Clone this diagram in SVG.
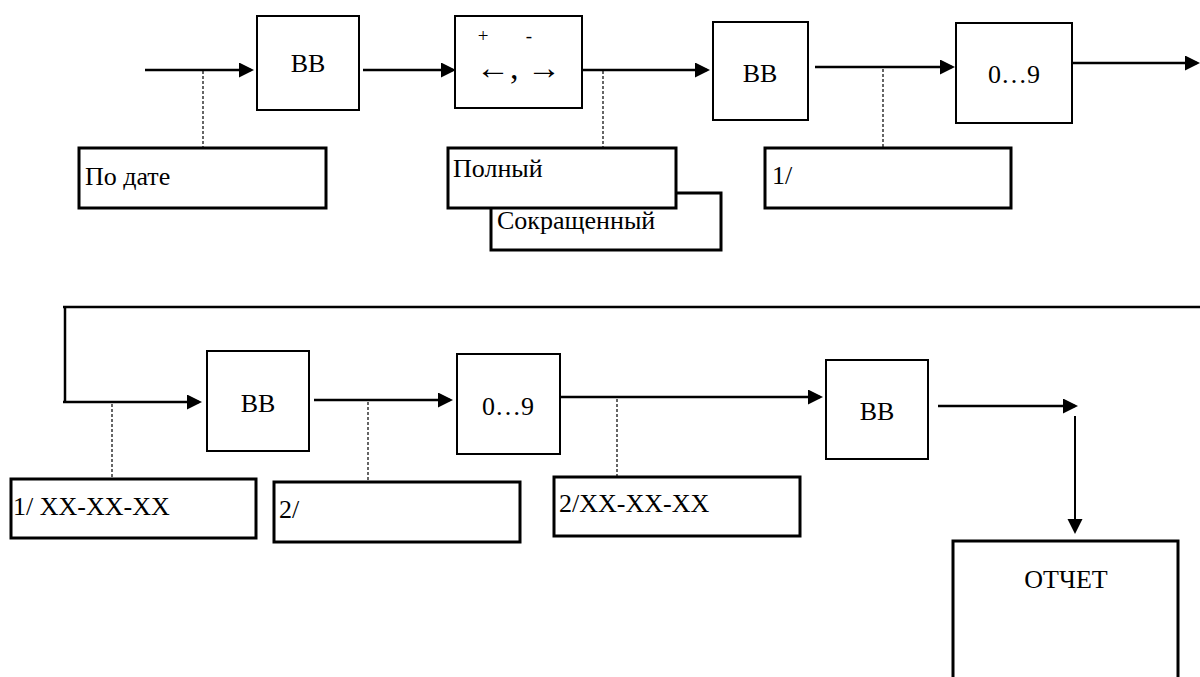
<svg xmlns="http://www.w3.org/2000/svg" width="1200" height="677" viewBox="0 0 1200 677">
<style>
text{font-family:'Liberation Serif','DejaVu Serif',serif;font-size:26px;fill:#000}
.mid{text-anchor:middle}
.box{fill:#fff;stroke:#000;stroke-width:2}
.lab{fill:#fff;stroke:#000;stroke-width:3}
.ln{stroke:#000;stroke-width:2.5;fill:none}
.arr{stroke:#000;stroke-width:2.5;fill:none;marker-end:url(#ah)}
.dash{stroke:#000;stroke-width:1.2;stroke-dasharray:3 2;fill:none}
.sm{font-size:19px}
</style>
<defs>
<marker id="ah" markerUnits="userSpaceOnUse" markerWidth="16" markerHeight="16" refX="12" refY="7.5" orient="auto">
<path d="M0,0 L15,7.5 L0,15 z" fill="#000"/>
</marker>
</defs>
<g id="connectors">
<line class="arr" x1="145" y1="70" x2="251" y2="70"/>
<line class="dash" x1="203" y1="71" x2="203" y2="148"/>
<line class="arr" x1="363" y1="70" x2="453" y2="70"/>
<line class="dash" x1="603" y1="71" x2="603" y2="148"/>
<line class="arr" x1="583" y1="70" x2="707" y2="70"/>
<line class="arr" x1="815" y1="67" x2="952" y2="67"/>
<line class="dash" x1="883" y1="69" x2="883" y2="148"/>
<line class="arr" x1="1072" y1="63" x2="1197" y2="63"/>
<line class="ln" x1="63" y1="307" x2="1200" y2="307"/>
<line class="ln" x1="65" y1="307" x2="65" y2="402"/>
<line class="arr" x1="63" y1="402" x2="199" y2="402"/>
<line class="dash" x1="112" y1="404" x2="112" y2="479"/>
<line class="arr" x1="314" y1="400" x2="450" y2="400"/>
<line class="dash" x1="368" y1="402" x2="368" y2="481"/>
<line class="arr" x1="561" y1="397" x2="820" y2="397"/>
<line class="dash" x1="617" y1="399" x2="617" y2="477"/>
<line class="arr" x1="938" y1="406" x2="1075" y2="406"/>
<line class="arr" style="stroke-width:2" x1="1075" y1="416" x2="1075" y2="531"/>
</g>
<g id="bb1"><rect class="box" x="257" y="16" width="102" height="94"/><text class="mid" x="308" y="72">ВВ</text></g>
<g id="arrows-box"><rect class="box" x="455" y="16" width="127" height="92"/>
<text class="sm mid" x="483" y="42">+</text>
<text class="sm mid" x="529" y="42">-</text>
<text x="476" y="79" style="font-size:34px">←, →</text></g>
<g id="bb3"><rect class="box" x="713" y="22" width="95" height="98"/><text class="mid" x="760" y="82">ВВ</text></g>
<g id="digits1"><rect class="box" x="956" y="23" width="116" height="100"/><text class="mid" x="1014" y="83">0…9</text></g>
<g id="po-date"><rect class="lab" x="79" y="148" width="247" height="60"/><text x="85" y="185">По дате</text></g>
<g id="sokr"><rect class="lab" x="491" y="193" width="230" height="57"/><text x="497" y="229">Сокращенный</text></g>
<g id="polny"><rect class="lab" x="448" y="148" width="228" height="60"/><text x="453" y="177">Полный</text></g>
<g id="one"><rect class="lab" x="765" y="148" width="246" height="60"/><text x="772" y="184">1/</text></g>
<g id="bb4"><rect class="box" x="207" y="351" width="102" height="100"/><text class="mid" x="258" y="412">ВВ</text></g>
<g id="digits2"><rect class="box" x="457" y="354" width="103" height="100"/><text class="mid" x="508" y="415">0…9</text></g>
<g id="bb5"><rect class="box" x="826" y="360" width="102" height="99"/><text class="mid" x="877" y="420">ВВ</text></g>
<g id="one-xx"><rect class="lab" x="11" y="479" width="245" height="59"/><text x="13" y="515">1/ XX-XX-XX</text></g>
<g id="two"><rect class="lab" x="274" y="482" width="246" height="60"/><text x="279" y="518">2/</text></g>
<g id="two-xx"><rect class="lab" x="554" y="477" width="246" height="59"/><text x="559" y="512">2/XX-XX-XX</text></g>
<g id="report"><rect class="lab" x="953" y="541" width="225" height="200"/><text class="mid" x="1066" y="588">ОТЧЕТ</text></g>
</svg>
